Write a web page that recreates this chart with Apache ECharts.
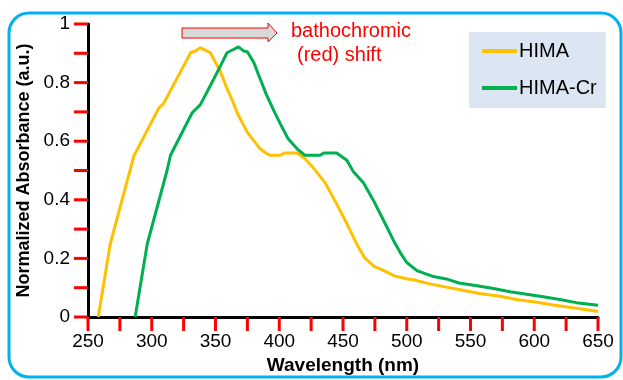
<!DOCTYPE html>
<html>
<head>
<meta charset="utf-8">
<script src="https://cdn.jsdelivr.net/npm/echarts@6/dist/echarts.min.js"></script>
<style>
  html, body { margin: 0; padding: 0; background: #fff; }
  #chart { width: 623px; height: 380px; }
</style>
</head>
<body>
<div id="chart"></div>
<script>
  // HIMA spectrum (wavelength nm / normalized absorbance)
  const himaWl = [258, 267.5, 286, 305.5, 309.5, 318, 327.8, 330.4, 334.3, 338, 342, 346, 350, 354, 359, 363, 367, 375, 380, 385, 390, 393, 401, 404, 414, 420, 426, 432, 436, 445, 453, 461, 467, 474, 482, 490, 500, 505, 518, 531, 544, 557, 573, 586, 602, 615, 633, 650];
  const himaAbs = [0, 0.25, 0.55, 0.713, 0.73, 0.8, 0.88, 0.902, 0.908, 0.919, 0.911, 0.902, 0.869, 0.836, 0.78, 0.741, 0.697, 0.63, 0.602, 0.574, 0.558, 0.552, 0.552, 0.56, 0.56, 0.541, 0.513, 0.48, 0.458, 0.386, 0.319, 0.247, 0.202, 0.174, 0.158, 0.141, 0.13, 0.127, 0.113, 0.102, 0.091, 0.08, 0.071, 0.06, 0.05, 0.041, 0.03, 0.019];

  // HIMA-Cr spectrum
  const crWl = [287, 296.5, 312, 314.7, 331.7, 338, 346, 354, 359, 364, 368, 372, 375, 380, 385, 390, 396, 401, 407, 414, 420, 432, 435, 445, 453, 458, 466, 474, 483, 490, 495, 500, 508, 515, 521, 531, 541, 555, 568, 581, 594, 607, 620, 633, 650];
  const crAbs = [0, 0.25, 0.5, 0.552, 0.697, 0.724, 0.79, 0.858, 0.902, 0.913, 0.922, 0.908, 0.905, 0.869, 0.813, 0.758, 0.702, 0.658, 0.608, 0.574, 0.552, 0.552, 0.56, 0.56, 0.535, 0.497, 0.458, 0.397, 0.319, 0.258, 0.219, 0.186, 0.158, 0.147, 0.138, 0.13, 0.116, 0.107, 0.097, 0.086, 0.078, 0.069, 0.06, 0.049, 0.04];

  // tick marks (labelled every other one)
  const xTicks = [250, 275, 300, 325, 350, 375, 400, 425, 450, 475, 500, 525, 550, 575, 600, 625, 650];
  const yTicks = [0, 0.1, 0.2, 0.3, 0.4, 0.5, 0.6, 0.7, 0.8, 0.9, 1];

  const seriesNames = ["HIMA", "HIMA-Cr"];
  const colors = ["#FFC000", "#00B050"];

  const font = "'Liberation Sans', Arial, sans-serif";
  const zip = (xs, ys) => xs.map((x, i) => [x, ys[i]]);

  const chart = echarts.init(document.getElementById("chart"));

  chart.setOption({
    animation: false,
    textStyle: { fontFamily: font },
    grid: { left: 88, right: 25, top: 24, bottom: 56 },
    legend: {
      orient: "vertical",
      left: 469,
      top: 32,
      padding: [9, 9, 10, 13],
      itemGap: 17,
      itemWidth: 35,
      itemHeight: 4,
      backgroundColor: "#DCE6F2",
      data: seriesNames.map((n) => ({ name: n, icon: "rect" })),
      textStyle: { fontSize: 20, color: "#000", fontFamily: font, padding: [0, 0, 0, -3] },
    },
    xAxis: {
      type: "value",
      min: 250,
      max: 650,
      interval: 50,
      name: "Wavelength (nm)",
      nameLocation: "middle",
      nameGap: 39,
      nameTextStyle: { fontSize: 19, fontWeight: "bold", color: "#000", fontFamily: font },
      axisLine: { lineStyle: { color: "#000", width: 3 } },
      axisTick: { show: false },
      axisLabel: { fontSize: 19, color: "#000", margin: 15 },
      splitLine: { show: false },
    },
    yAxis: {
      type: "value",
      min: 0,
      max: 1,
      interval: 0.2,
      name: "Normalized Absorbance (a.u.)",
      nameLocation: "middle",
      nameGap: 47,
      nameTextStyle: { fontSize: 18, fontWeight: "bold", color: "#000", fontFamily: font },
      axisLine: { show: true, lineStyle: { color: "#000", width: 3 } },
      axisTick: { show: false },
      axisLabel: { fontSize: 19, color: "#000", margin: 18 },
      splitLine: { show: false },
    },
    series: [
      {
        name: seriesNames[0],
        type: "line",
        data: zip(himaWl, himaAbs),
        symbol: "none",
        color: colors[0],
        lineStyle: { width: 3, color: colors[0] },
      },
      {
        name: seriesNames[1],
        type: "line",
        data: zip(crWl, crAbs),
        symbol: "none",
        color: colors[1],
        lineStyle: { width: 3, color: colors[1] },
      },
    ],
  });

  // outward tick marks, placed through the axes' scales
  const tickLen = 14;
  const tickMarks = [];
  xTicks.forEach((v) => {
    const p = chart.convertToPixel({ gridIndex: 0 }, [v, 0]);
    tickMarks.push({
      type: "rect",
      silent: true,
      z: 100,
      shape: { x: p[0] - 1.5, y: p[1], width: 3, height: tickLen },
      style: { fill: "#f00" },
    });
  });
  yTicks.forEach((v) => {
    const p = chart.convertToPixel({ gridIndex: 0 }, [250, v]);
    tickMarks.push({
      type: "rect",
      silent: true,
      z: 100,
      shape: { x: p[0] - tickLen, y: p[1] - 1.5, width: tickLen, height: 3 },
      style: { fill: "#f00" },
    });
  });

  chart.setOption({
    graphic: [
      {
        type: "rect",
        silent: true,
        shape: { x: 9, y: 13, width: 612, height: 364, r: 20 },
        style: { fill: "transparent", stroke: "#00B0F0", lineWidth: 3 },
      },
      {
        type: "polygon",
        silent: true,
        shape: {
          points: [
            [182, 28], [268, 28], [268, 23], [277, 33], [268, 42], [268, 38], [182, 38],
          ],
        },
        style: { fill: "#D9D9D9", stroke: "#FF0000", lineWidth: 1 },
      },
      {
        type: "text",
        silent: true,
        left: 291,
        top: 21,
        style: { text: "bathochromic", fill: "#FF0000", font: "20px " + font },
      },
      {
        type: "text",
        silent: true,
        left: 297,
        top: 45,
        style: { text: "(red) shift", fill: "#FF0000", font: "20px " + font },
      },
    ].concat(tickMarks),
  });
</script>
</body>
</html>
